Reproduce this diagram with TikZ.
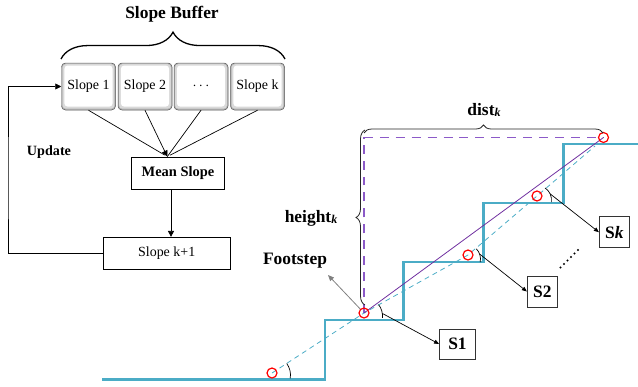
\documentclass[tikz,border=0pt]{standalone}
\usepackage{fontspec}
\setmainfont{Liberation Serif}
\usetikzlibrary{arrows.meta,decorations.pathreplacing,calc}
\definecolor{stair}{RGB}{75,172,198}
\definecolor{pathline}{RGB}{112,48,160}
\definecolor{pathdash}{RGB}{140,90,200}
\definecolor{footred}{RGB}{255,0,0}
\newcommand{\subk}{\raisebox{-1.5pt}{\fontsize{12}{12}\selectfont\bfseries\itshape k}}
\begin{document}
\begin{tikzpicture}[x=1bp,y=1bp,
  bigbf/.style={font=\fontsize{17.5}{20}\selectfont\bfseries},
  txt/.style={font=\fontsize{14}{16}\selectfont},
  sbox/.style={txt, minimum width=54bp, minimum height=47bp, inner sep=0pt,
    rounded corners=4pt, fill=gray!60, draw=black!65, line width=0.5pt,
    path picture={
      \fill[gray!30, rounded corners=3pt]
        ([shift={(1.2pt,1.4pt)}]path picture bounding box.south west) rectangle
        ([shift={(-1.2pt,-1.2pt)}]path picture bounding box.north east);
      \fill[white, rounded corners=3pt]
        ([shift={(3pt,3.5pt)}]path picture bounding box.south west) rectangle
        ([shift={(-3pt,-2.6pt)}]path picture bounding box.north east);
    }},
  plainbox/.style={draw, line width=0.8pt, inner sep=0pt},
  stepbox/.style={draw=black!80, line width=0.8pt, inner sep=0pt, bigbf},
  flow/.style={line width=0.7pt, -{Triangle[length=6pt,width=6pt]}},
  feed/.style={line width=0.7pt},
  pointer/.style={line width=0.7pt, -{Triangle[length=5pt,width=4pt]}},
  bracestyle/.style={draw=black!85, line width=0.8pt, decorate},
  footmark/.style={circle, draw=footred, line width=1.2pt, minimum size=10bp, inner sep=0pt},
  anglemark/.style={line width=0.7pt}
]
\useasboundingbox (0,0) rectangle (638,386);

% ---------- slope buffer and averaging ----------
\node[bigbf] (title) at (172,372) {Slope Buffer};
\node[sbox] (s1) at (88.5,299.5) {Slope 1};
\node[sbox] (s2) at (145,299.5) {Slope 2};
\node[sbox] (s3) at (201,299.5) {$\cdots$};
\node[sbox] (s4) at (257.5,299.5) {Slope k};
\draw[draw=black, line width=1.3pt, decorate, decoration={brace, amplitude=27pt}]
  (61,327) -- (285,327);

\node[plainbox, minimum width=93bp, minimum height=32bp,
      font=\fontsize{14.5}{16}\selectfont\bfseries] (ms) at (178,213) {Mean Slope};
\node[plainbox, minimum width=127bp, minimum height=32bp, txt] (kp) at (166.7,132.7) {Slope k+1};
\coordinate (mtop) at ([xshift=-10.7bp]ms.north);
% the four buffer entries feed one arrowhead
\foreach \s in {s1,s4} \draw[feed, shorten >=3pt] (\s.south) -- (mtop);
\draw[feed] (s3.south) -- (mtop);
\draw[flow] (s2.south) -- (mtop);
\draw[flow] ([xshift=-7bp]ms.south) -- ([xshift=-7bp]ms.south |- kp.north);

\coordinate (fb) at (8,200);
\draw[flow] (kp.west) -| (fb) |- (s1.west);
\node[font=\fontsize{14.2}{16}\selectfont\bfseries] (upd) at (49,234) {Update};

% ---------- stairs ----------
\draw[stair, line width=3pt, line join=miter]
  (102,7) -- (325,7) -- (325,66) -- (403,66) -- (403,124) -- (483,124)
  -- (483,183) -- (563,183) -- (563,242) -- (638,242);

\coordinate (p1) at (272,13);
\coordinate (p2) at (364,73);
\coordinate (p3) at (468,131);
\coordinate (p4) at (537,190);
\coordinate (p5) at (603.5,248.5);
\coordinate (pend) at (595,240);

% foot trajectory and overall slope
\draw[stair, line width=0.8pt, dash pattern=on 5pt off 4pt]
  (p1) -- (p2) -- (p3) -- (p4) -- (pend);
\draw[pathdash, line width=1.4pt, dash pattern=on 9pt off 7pt] (p2) |- (p5);
\draw[pathline, line width=0.8pt] (p2) -- (p5);

\node[footmark] (c1) at (p1) {};
\node[footmark] (c2) at (p2) {};
\node[footmark] (c3) at (p3) {};
\node[footmark] (c4) at (p4) {};
\node[footmark] (c5) at (p5) {};

% braces for dist and height
\draw[bracestyle, decoration={brace, amplitude=8pt}] (364,253) -- (603,253);
\node[bigbf] (dist) at (484,276) {dist\subk};
\draw[bracestyle, decoration={brace, amplitude=9pt}] (365,81) -- (365,256);
\node[bigbf] (height) at (311,168) {height\subk};

% footstep label
\node[bigbf] (fs) at (295,125) {Footstep};
\coordinate (fstip) at (328,111);
\draw[gray, line width=0.8pt, -{Triangle[length=6pt,width=5pt]}] (c2) -- (fstip);

% angle marks
\coordinate (o1) at (271,11);
\coordinate (o2) at (364,70);
\coordinate (o3) at (466,127);
\coordinate (o4) at (537,186);
\draw[anglemark] ($(o1)+(-10:19.5)$) arc[start angle=-10, end angle=36, radius=19.5];
\draw[anglemark] ($(o2)+(-6:18.5)$) arc[start angle=-6, end angle=38, radius=18.5];
\draw[anglemark] ($(o3)+(-12:14.5)$) arc[start angle=-12, end angle=45, radius=14.5];
\draw[anglemark] ($(o4)+(-8:14.5)$) arc[start angle=-8, end angle=56, radius=14.5];

% slope labels
\node[stepbox, minimum width=36bp, minimum height=30bp] (S1) at (457.5,42) {S1};
\node[stepbox, minimum width=30bp, minimum height=31bp] (S2) at (542.3,94.5) {S2};
\node[stepbox, minimum width=30bp, minimum height=31bp] (Sk) at (614.3,153.8) {S\textit{k}};
\draw[pointer] ($(o2)+(8:18.5)$) -- (S1.west);
\draw[pointer] ($(o3)+(20:14.5)$) -- (S2.west);
\draw[pointer] ($(o4)+(25:14.5)$) -- (Sk.west);

% continuation dots between S2 and Sk
\foreach \i in {0,...,5} \fill ($(560.5,118.5)+(\i*3.5,\i*3.5)$) circle[radius=1.1pt];
\end{tikzpicture}
\end{document}
